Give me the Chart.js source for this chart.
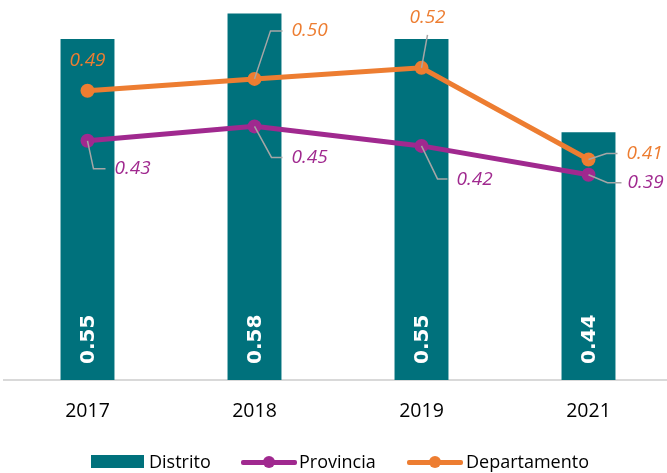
<!DOCTYPE html>
<html>
<head>
<meta charset="utf-8">
<script src="https://cdn.jsdelivr.net/npm/chart.js@4.4.0/dist/chart.umd.min.js"></script>
<style>
  html, body { margin:0; padding:0; background:#fff; overflow:hidden; width:667px; height:473px; }
  #wrap { position:absolute; left:0; top:0; width:680px; height:473px; }
  #legend { position:absolute; left:0; top:0; width:667px; height:473px; pointer-events:none;
            font-family:'Open Sans', sans-serif; font-size:18px; color:#000; }
  .lg-item { position:absolute; top:449px; height:26px; line-height:26px; white-space:nowrap; }
  .lg-box { position:absolute; top:6px; height:13px; width:53px; }
  .lg-line { position:absolute; top:10.5px; height:5px; width:56px; border-radius:2px; }
  .lg-dot { position:absolute; top:7px; width:12px; height:12px; border-radius:50%; }
  .lg-text { position:absolute; top:-1px; }
</style>
</head>
<body>
<div id="wrap"><canvas id="c" width="680" height="473"></canvas></div>
<div id="legend"></div>
<script>
// ---- data ----
const categories = ['2017', '2018', '2019', '2021'];
const distrito = [0.55, 0.58, 0.55, 0.44];
const provincia = [0.430, 0.447, 0.424, 0.390];
const departamento = [0.489, 0.503, 0.516, 0.408];
const seriesNames = ['Distrito', 'Provincia', 'Departamento'];

// ---- styles ----
const TEAL = '#00717C';
const PURPLE = '#A0298F';
const ORANGE = '#ED7D31';
const LEADER = '#A6A6A6';

// label placement (offsets from each point, in px)
const deptPlacement = [
  { leader: null, text: [0, -30], align: 'center' },
  { leader: [[0,0],[16,-48],[28,-48]], text: [37, -48], align: 'left' },
  { leader: [[0,0],[6,-33]], text: [6, -50], align: 'center' },
  { leader: [[0,0],[18,-6],[29,-6]], text: [38, -6], align: 'left' }
];
const provPlacement = [
  { leader: [[0,0],[6,28],[18,28]], text: [27, 28], align: 'left' },
  { leader: [[0,0],[17,31],[28,31]], text: [37, 31], align: 'left' },
  { leader: [[0,0],[16,33],[26,33]], text: [35, 34], align: 'left' },
  { leader: [[0,0],[19,8],[33,8]], text: [39, 8], align: 'left' }
];

const labelPlugin = {
  id: 'labels',
  afterDatasetsDraw(chart) {
    const ctx = chart.ctx;
    const bottom = chart.chartArea.bottom;
    // bar labels
    const barMeta = chart.getDatasetMeta(0);
    ctx.save();
    ctx.fillStyle = '#FFFFFF';
    ctx.font = 'bold 20px "DejaVu Sans", sans-serif';
    ctx.textAlign = 'left';
    ctx.textBaseline = 'middle';
    barMeta.data.forEach((el, i) => {
      ctx.save();
      ctx.translate(el.x + 1, bottom - 16);
      ctx.rotate(-Math.PI / 2);
      ctx.fillText(distrito[i].toFixed(2), 0, 0);
      ctx.restore();
    });
    ctx.restore();

    const drawLineLabels = (dsIndex, values, placement, color) => {
      const meta = chart.getDatasetMeta(dsIndex);
      meta.data.forEach((pt, i) => {
        const p = placement[i];
        if (p.leader) {
          ctx.save();
          ctx.strokeStyle = LEADER;
          ctx.lineWidth = 1.5;
          ctx.beginPath();
          p.leader.forEach((o, k) => {
            if (k === 0) ctx.moveTo(pt.x + o[0], pt.y + o[1]);
            else ctx.lineTo(pt.x + o[0], pt.y + o[1]);
          });
          ctx.stroke();
          ctx.restore();
        }
        ctx.save();
        ctx.fillStyle = color;
        ctx.font = 'italic 19px "Open Sans", sans-serif';
        ctx.textAlign = p.align;
        ctx.textBaseline = 'middle';
        ctx.fillText(values[i].toFixed(2), pt.x + p.text[0], pt.y + p.text[1]);
        ctx.restore();
      });
    };
    drawLineLabels(2, departamento, deptPlacement, ORANGE);
    drawLineLabels(1, provincia, provPlacement, PURPLE);
  }
};

const chart = new Chart(document.getElementById('c'), {
  data: {
    labels: categories,
    datasets: [
      {
        type: 'bar', label: seriesNames[0], data: distrito,
        backgroundColor: TEAL, borderWidth: 0,
        categoryPercentage: 1.0, barPercentage: 0.323, order: 3
      },
      {
        type: 'line', label: seriesNames[1], data: provincia,
        borderColor: PURPLE, backgroundColor: PURPLE, borderWidth: 5,
        pointRadius: 7, pointBackgroundColor: PURPLE, pointBorderWidth: 0,
        tension: 0, order: 2
      },
      {
        type: 'line', label: seriesNames[2], data: departamento,
        borderColor: ORANGE, backgroundColor: ORANGE, borderWidth: 5,
        pointRadius: 7, pointBackgroundColor: ORANGE, pointBorderWidth: 0,
        tension: 0, order: 1
      }
    ]
  },
  options: {
    responsive: false,
    animation: false,
    layout: { autoPadding: false, padding: { left: 4, right: 8, top: 0, bottom: 29.6 } },
    plugins: { legend: { display: false }, tooltip: { enabled: false } },
    scales: {
      x: {
        offset: true,
        grid: { display: true, color: 'transparent', drawTicks: false },
        border: { display: true, color: '#D9D9D9', width: 2 },
        ticks: { color: '#000', font: { family: 'Open Sans', size: 19.5 }, padding: 20 }
      },
      y: { display: false, min: 0.148, max: 0.596 }
    }
  },
  plugins: [labelPlugin]
});

// ---- HTML legend ----
const legend = document.getElementById('legend');
const legendDefs = [
  { name: seriesNames[0], color: TEAL, kind: 'box', left: 91, textLeft: 58 },
  { name: seriesNames[1], color: PURPLE, kind: 'line', left: 241, textLeft: 58 },
  { name: seriesNames[2], color: ORANGE, kind: 'line', left: 407, textLeft: 59 }
];
legendDefs.forEach(d => {
  const item = document.createElement('div');
  item.className = 'lg-item';
  item.style.left = d.left + 'px';
  if (d.kind === 'box') {
    const b = document.createElement('div');
    b.className = 'lg-box'; b.style.left = '0px'; b.style.background = d.color;
    item.appendChild(b);
  } else {
    const l = document.createElement('div');
    l.className = 'lg-line'; l.style.left = '0px'; l.style.background = d.color;
    const dot = document.createElement('div');
    dot.className = 'lg-dot'; dot.style.left = '22px'; dot.style.background = d.color;
    item.appendChild(l); item.appendChild(dot);
  }
  const t = document.createElement('span');
  t.className = 'lg-text'; t.style.left = d.textLeft + 'px'; t.textContent = d.name;
  item.appendChild(t);
  legend.appendChild(item);
});
</script>
</body>
</html>
